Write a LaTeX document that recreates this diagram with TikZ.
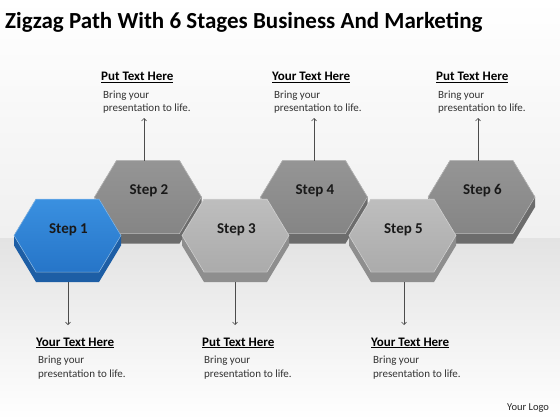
\documentclass[tikz,border=0pt]{standalone}
\usepackage{fontspec}
\setmainfont{Carlito}
\usetikzlibrary{arrows.meta}
\definecolor{faceblue}{HTML}{3A90E0}
\definecolor{facebotblue}{HTML}{2675C8}
\definecolor{sideblue}{HTML}{1D5EA5}
\definecolor{facedark}{HTML}{959595}
\definecolor{facebotdark}{HTML}{858585}
\definecolor{sidedark}{HTML}{6C6C6C}
\definecolor{facelight}{HTML}{BEBEBE}
\definecolor{facebotlight}{HTML}{ABABAB}
\definecolor{sidelight}{HTML}{8E8E8E}

\begin{document}
\begin{tikzpicture}[x={(1pt,0pt)}, y={(0pt,-1pt)}, % pixel grid, y downwards
	head/.style={font=\fontsize{13}{15}\selectfont\bfseries, text=black, inner sep=0pt, anchor=base west},
	body/.style={font=\fontsize{11}{13.5}\selectfont, text=black!80, inner sep=0pt, anchor=base west, align=left},
	steplabel/.style={font=\fontsize{15}{18}\selectfont\bfseries, text=black!90, inner sep=0pt},
	pointer/.style={draw=black!70, line width=0.6pt, -{Straight Barb[length=2.5pt,width=5pt]}}]
		
		\useasboundingbox (0,0) rectangle (560,420);
		\shade[top color=white, bottom color=black!6] (0,0) rectangle (560,238);
		\shade[top color=black!11, bottom color=white] (0,238) rectangle (560,420);
		
		\node[anchor=base west, inner sep=0pt, font=\fontsize{23}{27}\selectfont\bfseries] (title) at (5,29) {Zigzag Path With 6 Stages Business And Marketing};
		
		% hexagons, the high row first
		\foreach \i/\cx/\cy/\f in {2/148/197/dark, 4/314/197/dark, 6/481.5/197/dark, 1/67.5/235.5/blue, 3/235.5/235.5/light, 5/402.5/235.5/light}
		{
			\fill[side\f] (\cx-53.5,\cy) -- (\cx-31.5,\cy+36.5) -- (\cx+31.5,\cy+36.5) -- (\cx+53.5,\cy)
			-- (\cx+53.5,\cy+10) -- (\cx+31.5,\cy+46.5) -- (\cx-31.5,\cy+46.5) -- (\cx-53.5,\cy+10) -- cycle;
			\filldraw[draw=face\f!55!white, line width=0.5pt, top color=face\f, bottom color=facebot\f]
			(\cx-53.5,\cy) -- (\cx-31.5,\cy-36.5) -- (\cx+31.5,\cy-36.5) -- (\cx+53.5,\cy)
			-- (\cx+31.5,\cy+36.5) -- (\cx-31.5,\cy+36.5) -- cycle;
			\node[steplabel] (s\i) at (\cx+1,\cy-6) {Step \i};
		}
		
		\coordinate (top2) at (144,160.5);
		\coordinate (top4) at (314,160.5);
		\coordinate (top6) at (478,160.5);
		\coordinate (bot1) at (68,282);
		\coordinate (bot3) at (235,282);
		\coordinate (bot5) at (404,282);
		
		\foreach \i/\tx/\ty/\title in {2/101/81/Put Text Here, 4/272/81/Your Text Here, 6/436/81/Put Text Here, 1/36/346/Your Text Here, 3/202/346/Put Text Here, 5/371/346/Your Text Here}
		{
			\node[head] (h\i) at (\tx,\ty) {\underline{\title}};
			\node[body] (b\i) at (\tx+2,\ty+31) {Bring your\\presentation to life.};
		}
		
		\foreach \i in {2,4,6}
		\draw[pointer] (top\i) -- (top\i |- 0,118) coordinate (tip\i);
		\foreach \i in {1,3,5}
		\draw[pointer] (bot\i) -- (bot\i |- 0,325) coordinate (tip\i);
		
		\node[anchor=base west, inner sep=0pt, font=\fontsize{10.5}{12}\selectfont, text=black!85] (logo) at (507,410) {Your Logo};
		\end{tikzpicture}
\end{document}
